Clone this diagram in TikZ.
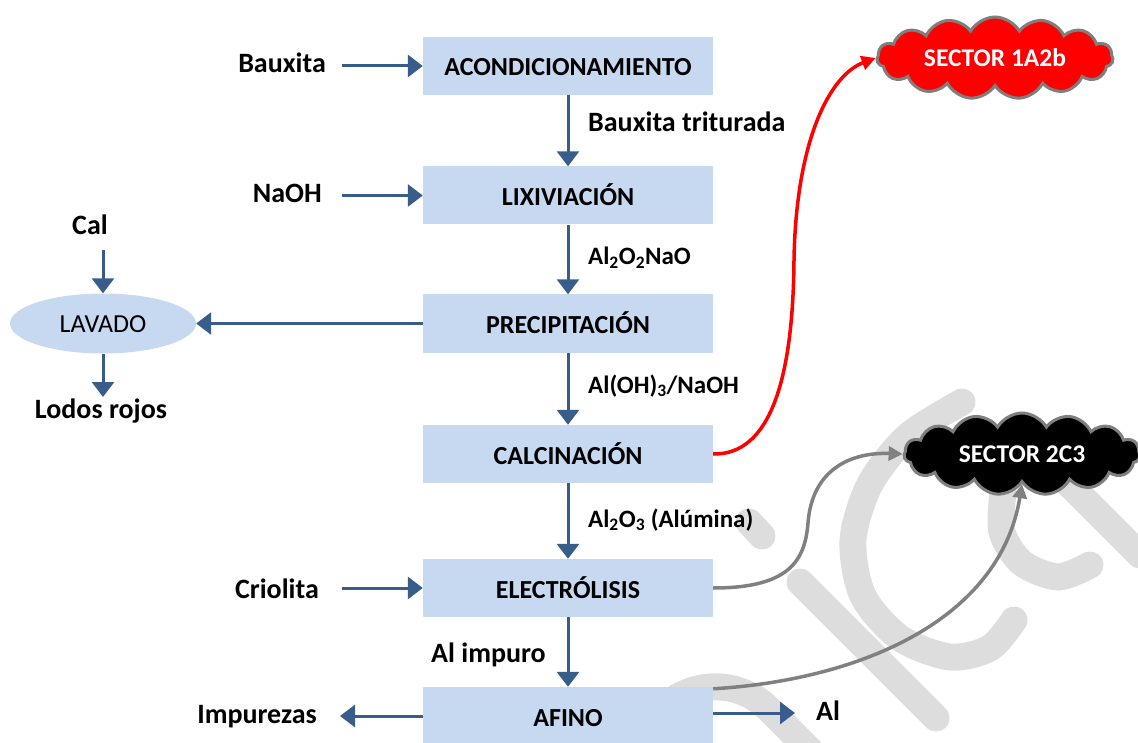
\documentclass[tikz,border=0pt]{standalone}
\usepackage{fontspec}
\setmainfont{Carlito}
\usetikzlibrary{arrows.meta,shapes.symbols,shapes.geometric}
\definecolor{boxblue}{HTML}{C6D9F1}
\definecolor{arrblue}{HTML}{385D8A}
\definecolor{wm}{RGB}{221,221,221}
\definecolor{cloudgray}{HTML}{7F7F7F}
\definecolor{curvegray}{HTML}{808080}
\newcommand\boxfont{\fontsize{26}{31}\selectfont\bfseries}
\newcommand\labfont{\fontsize{28}{33}\selectfont\bfseries}
\newcommand\formfont{\fontsize{25}{30}\selectfont\bfseries}
\newcommand\lavfont{\fontsize{26}{31}\selectfont}
\newcommand\cloudfont{\fontsize{25.5}{30}\selectfont\bfseries}
\begin{document}
\begin{tikzpicture}[x=1pt,y=-1pt,
  stagebox/.style={rectangle, fill=boxblue, minimum width=290pt, minimum height=58pt,
    inner sep=0pt, font=\boxfont, text height=20pt, text depth=0pt},
  lab/.style={inner sep=0pt, font=\labfont},
  form/.style={inner sep=0pt, font=\formfont},
  arr/.style={draw=arrblue, line width=3pt, -{Triangle[length=15pt,width=22pt]}},
  redarr/.style={draw=red, line width=3.5pt, -{Triangle[length=14pt,width=14pt]}},
  grayarr/.style={draw=curvegray, line width=3.5pt, -{Triangle[length=14pt,width=14pt]}},
  sector/.style={cloud, cloud puffs=15, cloud puff arc=120, cloud ignores aspect,
    draw=cloudgray, line width=3pt,
    minimum width=236pt, minimum height=82pt, text=white, font=\cloudfont, inner sep=0pt},
  wmline/.style={draw=wm, line width=27pt, line cap=round}]
\useasboundingbox (0,0) rectangle (1138,743);
\clip (0,0) rectangle (1138,743);
% watermark
\draw[wmline] (800,582) -- (936,718);
\draw[wmline] (749,522) -- (762,536);
\begin{scope}[shift={(936,718)}, x={(0.7071pt,0.7071pt)}, y={(-0.7071pt,0.7071pt)}]
  \draw[wmline] (-112,0) -- (-112,125) arc[start angle=0, end angle=180, radius=75] -- (-262,0);
\end{scope}
\draw[wmline] plot[smooth] coordinates {(962,402) (908,436) (870,484) (853,540) (863,596)
  (900,638) (950,657) (990,648) (1014,620)};
\draw[wmline] plot[smooth] coordinates {(1003,492) (1002,532) (1022,563) (1058,577) (1090,565)};
\draw[wmline] (1040,455) -- (1140,555);
% stages
\node[stagebox] (A) at (568,66) {ACONDICIONAMIENTO};
\node[stagebox] (L) at (568,195.5) {LIXIVIACIÓN};
\node[stagebox] (P) at (568,323.5) {PRECIPITACIÓN};
\node[stagebox] (C) at (568,454) {CALCINACIÓN};
\node[stagebox] (E) at (568,588) {ELECTRÓLISIS};
\node[stagebox] (F) at (568,716) {AFINO};
\node[ellipse, fill=boxblue, minimum width=186pt, minimum height=60pt, inner sep=0pt,
  font=\lavfont, text height=18pt, text depth=0pt] (V) at (103,323.5) {LAVADO};
% labels
\node[lab, anchor=base east] (tb) at (326,73) {Bauxita};
\node[lab, anchor=base east] (tn) at (322,203) {NaOH};
\node[lab, anchor=base east] (tc) at (319,598) {Criolita};
\node[lab, anchor=base east] (ti) at (317,723) {Impurezas};
\node[lab, anchor=base west] (ta) at (816,720) {Al};
\node[lab, anchor=base] (tcal) at (90,235) {Cal};
\node[lab, anchor=base] (tlr) at (101,418) {Lodos rojos};
\node[lab, anchor=base west] (l1) at (588,132) {Bauxita triturada};
\node[form, anchor=base west] (l2) at (588,265) {Al\textsubscript{2}O\textsubscript{2}NaO};
\node[form, anchor=base west] (l3) at (588,393) {Al(OH)\textsubscript{3}/NaOH};
\node[form, anchor=base west] (l4) at (588,527) {Al\textsubscript{2}O\textsubscript{3} (Alúmina)};
\node[lab, anchor=base west] (l5) at (431,662) {Al impuro};
% clouds
\node[sector, fill=red] (S1) at (995,58) {SECTOR 1A2b};
\node[sector, fill=black] (S2) at (1022,454) {SECTOR 2C3};
% coordinates
\coordinate (cb) at (342,66);
\coordinate (cn) at (342,195.5);
\coordinate (cc) at (342,588);
\coordinate (ci) at (340,716);
\coordinate (ca) at (795,713);
\coordinate (ccal) at (103,250);
\coordinate (clr) at (103,397);
% arrows
\draw[arr] (cb) -- (A.west);
\draw[arr] (cn) -- (L.west);
\draw[arr] (cc) -- (E.west);
\draw[arr] (F.west) -- (ci);
\draw[arr] ([yshift=3pt]F.east) -- (ca);
\draw[arr] (A.south) -- (L.north);
\draw[arr] (L.south) -- (P.north);
\draw[arr] (P.south) -- (C.north);
\draw[arr] (C.south) -- (E.north);
\draw[arr] (E.south) -- (F.north);
\draw[arr] (P.west) -- (V.east);
\draw[arr] (ccal) -- (V.north);
\draw[arr] (V.south) -- (clr);
% curves
\draw[redarr] (C.east) .. controls (770,455) and (793,380) .. (794,260)
  .. controls (796,140) and (830,75) .. (S1.west);
\draw[grayarr] (E.east) .. controls (790,588) and (805,560) .. (808,523)
  .. controls (812,470) and (850,452) .. (S2.west);
\draw[grayarr] ([yshift=-2pt]F.north east) .. controls (860,680) and (1000,620) .. (S2.south);
\end{tikzpicture}
\end{document}
